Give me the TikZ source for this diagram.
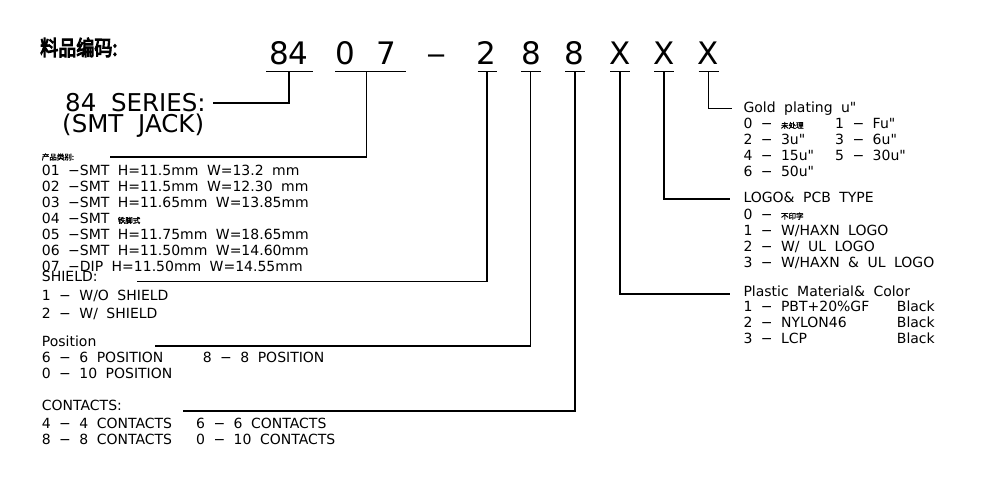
\documentclass[tikz,border=0pt]{standalone}
\usepackage{fontspec}
\newfontfamily\bodyfont{DejaVu Sans}[WordSpace=1.9]
\newfontfamily\cjkfont{Noto Sans CJK SC}[FakeBold=2.5]
\newfontfamily\cjkbfont{Noto Sans CJK SC}[FakeBold=5]
\newcommand\bodyf{\bodyfont\fontsize{14}{16}\selectfont}
\newcommand\serf{\bodyfont\fontsize{24.5}{28}\selectfont}
\newcommand\codef{\bodyfont\fontsize{31}{36}\selectfont}
\newcommand\cjkt{\cjkbfont\fontsize{21}{24}\selectfont}
\newcommand\cjks{\cjkfont\fontsize{7.5}{9}\selectfont}
\tikzset{
  body/.style={anchor=base west, inner sep=0pt, font=\bodyf},
  ser/.style={anchor=base west, inner sep=0pt, font=\serf},
  code/.style={anchor=base, inner sep=0pt, font=\codef},
  wire/.style={line width=1.3pt, line cap=butt},
}
\begin{document}
\begin{tikzpicture}[x=1pt,y=-1pt]
\fill[white] (0,0) rectangle (1000,484);
\useasboundingbox (0,0) rectangle (1000,484);

% title
\node[anchor=west, inner sep=0pt, font=\cjkt] (title) at (40,47.5) {\scalebox{0.86}[1]{料品编码:}};

% code characters
\node[code] (c84) at (289,64.3) {84};
\node[code] (c0) at (345.5,64.3) {0};
\node[code] (c7) at (386.5,64.3) {7};
\node[code] (cd) at (437,64.3) {\scalebox{1.3}[1]{–}};
\node[code] (c2) at (486.5,64.3) {2};
\node[code] (c8a) at (531,64.3) {8};
\node[code] (c8b) at (574,64.3) {8};
\node[code] (cx1) at (620,64.3) {X};
\node[code] (cx2) at (664,64.3) {X};
\node[code] (cx3) at (708,64.3) {X};

% underlines
\draw[wire] (266,71.7) -- (313,71.7);
\draw[wire] (335,71.7) -- (406,71.7);
\draw[wire] (477.5,71.7) -- (497,71.7);
\draw[wire] (521,71.7) -- (540.5,71.7);
\draw[wire] (565,71.7) -- (585,71.7);
\draw[wire] (610,71.7) -- (630,71.7);
\draw[wire] (654,71.7) -- (674,71.7);
\draw[wire] (698.5,71.7) -- (718.5,71.7);

% connector start points
\coordinate (k84) at (289,71.7);
\coordinate (k07) at (366.7,71.7);
\coordinate (k2) at (487,71.7);
\coordinate (k8a) at (530.7,71.7);
\coordinate (k8b) at (575,71.7);
\coordinate (kx1) at (620,71.7);
\coordinate (kx2) at (664,71.7);
\coordinate (kx3) at (708.7,71.7);
% connector ends
\coordinate (e84) at (213,103);
\coordinate (e07) at (110,157);
\coordinate (e2) at (137,281.7);
\coordinate (e8a) at (155,346);
\coordinate (e8b) at (182.7,411);
\coordinate (ex1) at (730,294);
\coordinate (ex2) at (730,199);
\coordinate (ex3) at (731.5,108.5);

\draw[wire] (k84) |- (e84);
\draw[wire] (k07) |- (e07);
\draw[wire] (k2) |- (e2);
\draw[wire] (k8a) |- (e8a);
\draw[wire] (k8b) |- (e8b);
\draw[wire] (kx1) |- (ex1);
\draw[wire] (kx2) |- (ex2);
\draw[wire] (kx3) |- (ex3);

% series
\node[ser] (series) at (65,111.7) {84 SERIES:};
\node[ser] (jack) at (62,132.5) {(SMT JACK)};

% product category
\node[anchor=west, inner sep=0pt, font=\cjks] (cat) at (41.7,157) {产品类别:};
\node[body] (l01) at (41.7,175.7) {01 −SMT H=11.5mm W=13.2 mm};
\node[body] (l02) at (41.7,191.7) {02 −SMT H=11.5mm W=12.30 mm};
\node[body] (l03) at (41.7,207.3) {03 −SMT H=11.65mm W=13.85mm};
\node[body] (l04) at (41.7,223.3) {04 −SMT {\cjks 铁脚式}};
\node[body] (l05) at (41.7,239.3) {05 −SMT H=11.75mm W=18.65mm};
\node[body] (l06) at (41.7,255) {06 −SMT H=11.50mm W=14.60mm};
\node[body] (l07) at (41.7,271.2) {07 −DIP H=11.50mm W=14.55mm};

% shield
\node[body] (sh) at (41.7,281.5) {SHIELD:};
\node[body] (sh1) at (41.7,300.7) {1 − W/O SHIELD};
\node[body] (sh2) at (41.7,318.3) {2 − W/ SHIELD};

% position
\node[body] (pos) at (41.7,346) {Position};
\node[body] (pos6) at (41.7,362.7) {6 − 6 POSITION};
\node[body] (pos8) at (202.7,362.7) {8 − 8 POSITION};
\node[body] (pos0) at (41.7,378.3) {0 − 10 POSITION};

% contacts
\node[body] (con) at (41.7,410.7) {CONTACTS:};
\node[body] (con4) at (41.7,428.3) {4 − 4 CONTACTS};
\node[body] (con6) at (196,428.3) {6 − 6 CONTACTS};
\node[body] (con8) at (41.7,444.3) {8 − 8 CONTACTS};
\node[body] (con0) at (196,444.3) {0 − 10 CONTACTS};

% gold plating
\node[body] (gold) at (743.3,113) {Gold plating u"};
\node[body] (g0) at (743.3,128.3) {0 − {\cjks 未处理}};
\node[body] (g1) at (835,128.3) {1 − Fu"};
\node[body] (g2) at (743.3,144.3) {2 − 3u"};
\node[body] (g3) at (835,144.3) {3 − 6u"};
\node[body] (g4) at (743.3,160) {4 − 15u"};
\node[body] (g5) at (835,160) {5 − 30u"};
\node[body] (g6) at (743.3,176) {6 − 50u"};

% logo
\node[body] (logo) at (743.3,202.3) {LOGO\& PCB TYPE};
\node[body] (lg0) at (743.3,219) {0 − {\cjks 不印字}};
\node[body] (lg1) at (743.3,235) {1 − W/HAXN LOGO};
\node[body] (lg2) at (743.3,251) {2 − W/ UL LOGO};
\node[body] (lg3) at (743.3,267.3) {3 − W/HAXN \& UL LOGO};

% plastic
\node[body] (pl) at (743.3,296.7) {Plastic Material\& Color};
\node[body] (pl1) at (743.3,311.7) {1 − PBT+20\%GF};
\node[body] (pl2) at (743.3,327.7) {2 − NYLON46};
\node[body] (pl3) at (743.3,343.3) {3 − LCP};
\node[body] (b1) at (896.7,311.7) {Black};
\node[body] (b2) at (896.7,327.7) {Black};
\node[body] (b3) at (896.7,343.3) {Black};
\end{tikzpicture}
\end{document}
